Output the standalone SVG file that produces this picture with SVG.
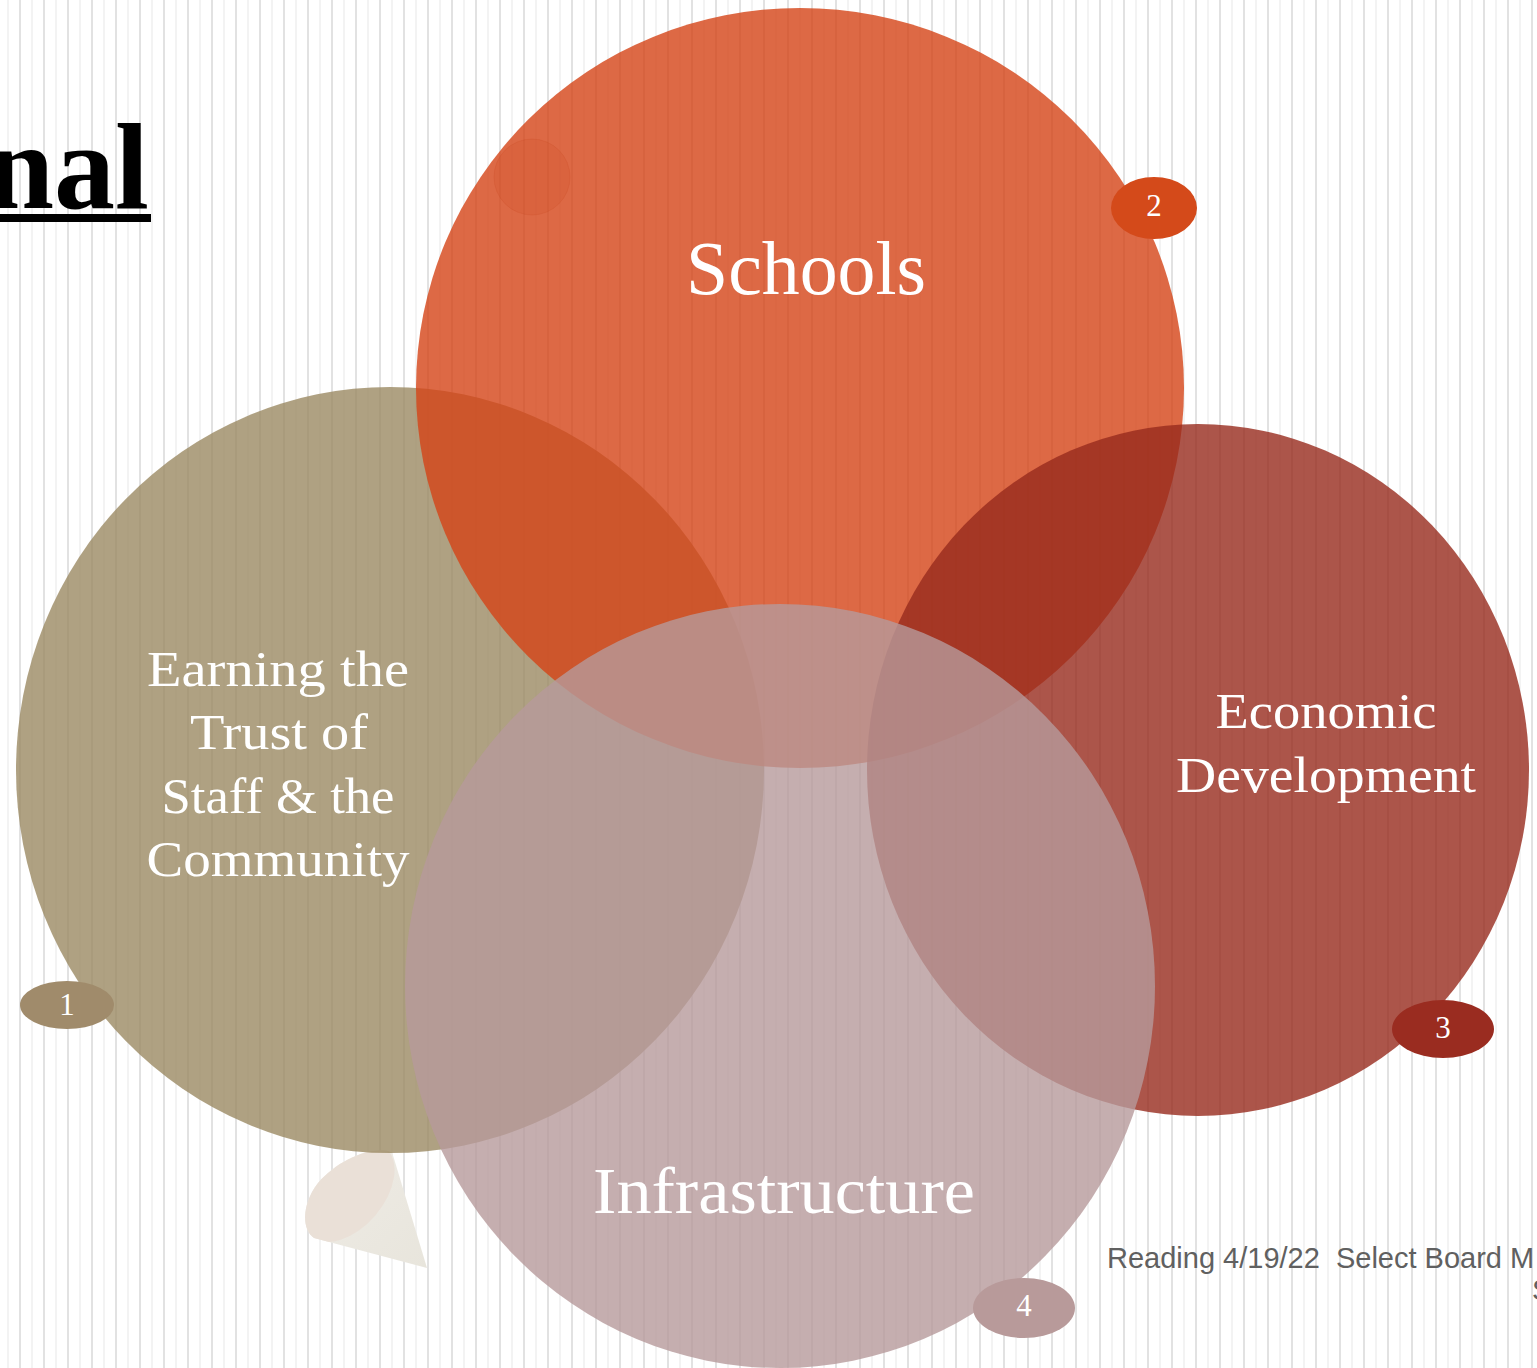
<svg xmlns="http://www.w3.org/2000/svg" width="1537" height="1368" viewBox="0 0 1537 1368">
<defs>
<pattern id="stripes" x="0" y="0" width="24" height="24" patternUnits="userSpaceOnUse">
<rect x="7.5" y="0" width="1" height="24" fill="#e8e8e8"/>
<rect x="19" y="0" width="2" height="24" fill="#e2e2e2"/>
</pattern>
<clipPath id="coneClip">
<path d="M392,1152 L427,1268 L314,1238 C302,1230 301,1205 318,1183 C338,1160 370,1146 392,1152 Z"/>
</clipPath>
<linearGradient id="coneGrad" x1="0" y1="0" x2="1" y2="1">
<stop offset="0" stop-color="#efece6"/>
<stop offset="1" stop-color="#e8e5dc"/>
</linearGradient>
</defs>
<style>
.lbl{font-family:"Liberation Serif","DejaVu Serif",serif;fill:#ffffff;text-anchor:middle}
.num{font-family:"Liberation Serif","DejaVu Serif",serif;fill:#ffffff;text-anchor:middle;font-size:31px}
.circ{opacity:0.8}
</style>
<rect width="1537" height="1368" fill="#ffffff"/>
<rect width="1537" height="1368" fill="url(#stripes)"/>

<g id="title">
<text x="149" y="208" font-family="Liberation Serif, serif" font-weight="bold" font-size="122" text-anchor="end" fill="#000000">nal</text>
<rect x="0" y="214" width="151" height="8" fill="#000000"/>
</g>

<g id="cone">
<path d="M392,1152 L427,1268 L314,1238 C302,1230 301,1205 318,1183 C338,1160 370,1146 392,1152 Z" fill="url(#coneGrad)"/>
<g clip-path="url(#coneClip)">
<ellipse cx="348" cy="1192" rx="58" ry="36" transform="rotate(-49.5 348 1192)" fill="#eae0d7"/>
</g>
</g>

<g id="node-earning">
<ellipse class="circ" cx="390" cy="770" rx="374" ry="383" fill="#9b8963"/>
</g>
<g id="node-schools">
<ellipse class="circ" cx="800" cy="388" rx="384" ry="380" fill="#d44416"/>
<circle cx="532" cy="177" r="38" fill="#c8461e" fill-opacity="0.15" stroke="#c8461e" stroke-opacity="0.2" stroke-width="1"/>
</g>
<g id="node-economic">
<ellipse class="circ" cx="1198" cy="770" rx="331" ry="346" fill="#972a1d"/>
</g>
<g id="node-infrastructure">
<ellipse class="circ" cx="780" cy="986" rx="375" ry="382" fill="#b69a9b"/>
</g>

<g id="labels">
<text class="lbl" x="806" y="294" font-size="76" textLength="240" lengthAdjust="spacingAndGlyphs">Schools</text>
<text class="lbl" x="278" y="686" font-size="51" textLength="262" lengthAdjust="spacingAndGlyphs">Earning the</text>
<text class="lbl" x="279" y="749" font-size="51" textLength="178" lengthAdjust="spacingAndGlyphs">Trust of</text>
<text class="lbl" x="278" y="813" font-size="51" textLength="233" lengthAdjust="spacingAndGlyphs">Staff &amp; the</text>
<text class="lbl" x="278" y="876" font-size="51" textLength="263" lengthAdjust="spacingAndGlyphs">Community</text>
<text class="lbl" x="1326" y="728" font-size="51" textLength="221" lengthAdjust="spacingAndGlyphs">Economic</text>
<text class="lbl" x="1326" y="792" font-size="51" textLength="300" lengthAdjust="spacingAndGlyphs">Development</text>
<text class="lbl" x="784" y="1213" font-size="66" textLength="382" lengthAdjust="spacingAndGlyphs">Infrastructure</text>
</g>

<g id="badges">
<g id="badge-1"><ellipse cx="67" cy="1005" rx="47" ry="24" fill="#a08b6b"/><text class="num" x="67" y="1015">1</text></g>
<g id="badge-2"><ellipse cx="1154" cy="208" rx="43" ry="31" fill="#d44a1a"/><text class="num" x="1154" y="216">2</text></g>
<g id="badge-3"><ellipse cx="1443" cy="1029" rx="51" ry="29" fill="#9a2c20"/><text class="num" x="1443" y="1038">3</text></g>
<g id="badge-4"><ellipse cx="1024" cy="1308" rx="51" ry="30" fill="#b89a9a"/><text class="num" x="1024" y="1316">4</text></g>
</g>

<g id="connectors"></g>

<g id="footer">
<text x="1107" y="1268" font-family="Liberation Sans, Arial, sans-serif" font-size="29" fill="#606060" xml:space="preserve">Reading 4/19/22  Select Board M</text>
<text x="1532" y="1300" font-family="Liberation Sans, Arial, sans-serif" font-size="29" fill="#606060">S</text>
</g>
</svg>
